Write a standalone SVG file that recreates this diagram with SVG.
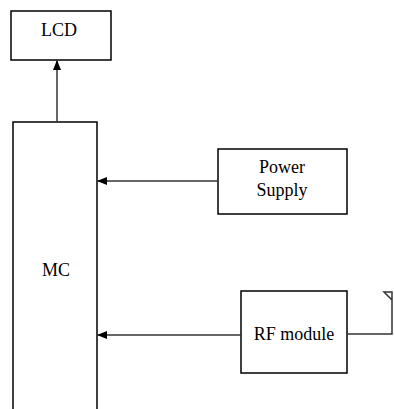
<svg xmlns="http://www.w3.org/2000/svg" width="394" height="409" viewBox="0 0 394 409">
<style>
.box{fill:#fff;stroke:#000;stroke-width:1.5}
.t{font-family:"Liberation Serif","Times New Roman",serif;font-size:18px;fill:#000;text-anchor:middle}
.c{stroke:#333;stroke-width:1.5;fill:none}
</style>
<defs>
<marker id="ah" markerWidth="10" markerHeight="8" refX="9" refY="4" orient="auto" markerUnits="userSpaceOnUse">
<path d="M0,0 L10,4 L0,8 Z" fill="#000"/>
</marker>
</defs>
<rect width="394" height="409" fill="#fff"/>
<g id="lcd"><rect class="box" x="11" y="11" width="100" height="49"/><text class="t" x="59" y="36">LCD</text></g>
<g id="mc"><path class="box" d="M13,409 L13,122 L97,122 L97,409"/><text class="t" x="56" y="276">MC</text></g>
<g id="power"><rect class="box" x="218" y="149" width="129" height="65"/><text class="t" x="282" y="173">Power</text><text class="t" x="282" y="196">Supply</text></g>
<g id="rf"><rect class="box" x="241" y="291" width="106" height="82"/><text class="t" x="294" y="340">RF module</text></g>
<g id="antenna"><path class="c" d="M347,334 L392,334 L392,292 L384,292 L392,300"/></g>
<g id="connectors">
<line class="c" x1="57" y1="122" x2="57" y2="61" marker-end="url(#ah)"/>
<line class="c" x1="218" y1="181" x2="98" y2="181" marker-end="url(#ah)" stroke="#666"/>
<line class="c" x1="241" y1="335" x2="98" y2="335" marker-end="url(#ah)"/>
</g>
</svg>
